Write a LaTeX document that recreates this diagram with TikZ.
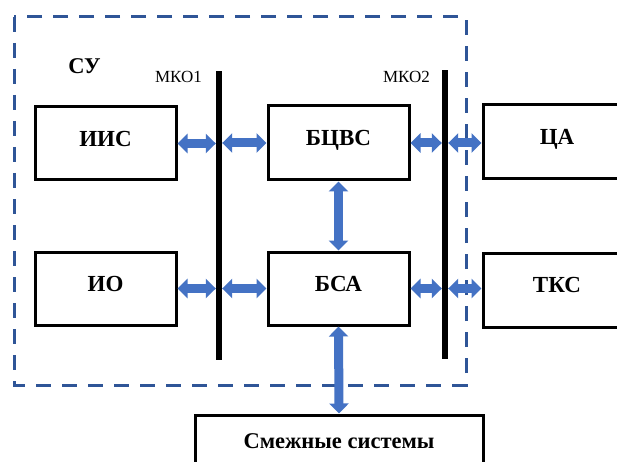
\documentclass[tikz,border=0pt]{standalone}
\usepackage{fontspec}
\setmainfont{Liberation Serif}
\usetikzlibrary{arrows.meta}
\definecolor{arrblue}{HTML}{4472C4}
\definecolor{dashblue}{HTML}{2F5597}
\tikzset{
  blk/.style={draw=black, line width=3pt, fill=white, inner sep=0pt, text height=16pt, text depth=10.5pt, font=\fontsize{23}{26}\selectfont\bfseries},
  bus/.style={fill=black, draw=none, minimum width=6pt, inner sep=0pt},
  link/.style={draw=arrblue, line width=9pt, {Triangle[width=19pt,length=10pt]}-{Triangle[width=19pt,length=10pt]}},
  lbl/.style={inner sep=0pt, font=\fontsize{17}{20}\selectfont},
  border/.style={draw=dashblue, line width=3pt, dash pattern=on 15pt off 11pt}
}
\begin{document}
\begin{tikzpicture}[x=1pt,y=-1pt]
\useasboundingbox (0,0) rectangle (617,462);
\clip (0,0) rectangle (617,462);
\fill[white] (0,0) rectangle (617,462);
% dashed border of СУ
\draw[border] (14,17) rectangle (466,385);
% labels
\node[lbl, font=\fontsize{22.5}{26}\selectfont\bfseries] (su) at (84.5,66) {СУ};
\node[lbl] (l1) at (178.5,77) {МКО1};
\node[lbl] (l2) at (406.5,77) {МКО2};
% buses
\node[bus, minimum height=289pt] (mko1) at (219,215.5) {};
\node[bus, minimum height=289pt] (mko2) at (445,214.5) {};
% blocks
\node[blk, minimum width=141pt, minimum height=73pt] (iis) at (105.5,143.5) {ИИС};
\node[blk, minimum width=141pt, minimum height=74pt] (bcvs) at (338.5,143) {БЦВС};
\node[blk, minimum width=148pt, minimum height=74pt] (ca) at (557,142) {ЦА};
\node[blk, minimum width=141pt, minimum height=73pt] (io) at (105.5,288.5) {ИО};
\node[blk, minimum width=141pt, minimum height=73pt] (bsa) at (338.5,288.5) {БСА};
\node[blk, minimum width=148pt, minimum height=74pt] (tks) at (557,290) {ТКС};
\node[blk, minimum width=288pt, minimum height=52pt, text height=, text depth=, font=\fontsize{22.5}{26}\selectfont\bfseries] (smez) at (339,441) {Смежные системы};
% connectors
\draw[link] (iis.east) -- (iis.east -| mko1.west);
\draw[link] (bcvs.west -| mko1.east) -- (bcvs.west);
\draw[link] (io.east) -- (io.east -| mko1.west);
\draw[link] (bsa.west -| mko1.east) -- (bsa.west);
\draw[link] (bcvs.east) -- (bcvs.east -| mko2.west);
\draw[link] (bcvs.east -| mko2.east) -- (ca.west |- bcvs.east);
\draw[link] (bsa.east) -- (bsa.east -| mko2.west);
\draw[link] (bsa.east -| mko2.east) -- (tks.west |- bsa.east);
\draw[link] (bcvs.south) -- (bsa.north);
\draw[link] (bsa.south) -- (smez.north);
\end{tikzpicture}
\end{document}
